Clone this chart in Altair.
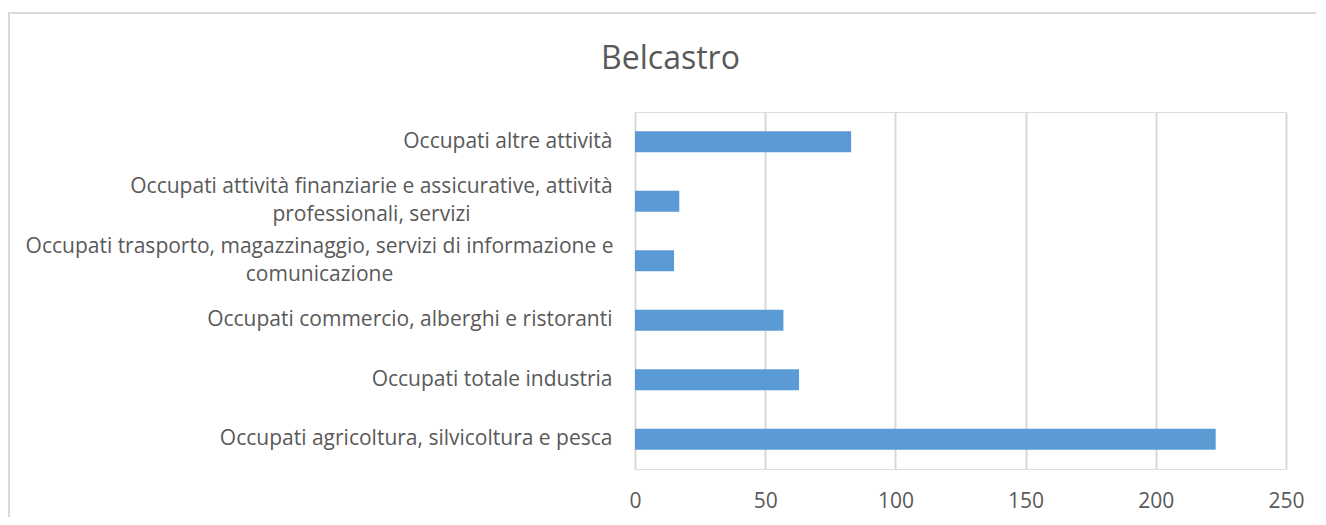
import altair as alt
import pandas as pd

categories = [
    "Occupati altre attività",
    "Occupati attività finanziarie e assicurative, attività\nprofessionali, servizi",
    "Occupati trasporto, magazzinaggio, servizi di informazione e\ncomunicazione",
    "Occupati commercio, alberghi e ristoranti",
    "Occupati totale industria",
    "Occupati agricoltura, silvicoltura e pesca",
]
values = [83, 17, 15, 57, 63, 223]
x_ticks = [0, 50, 100, 150, 200, 250]

df = pd.DataFrame({"categoria": categories, "occupati": values})

FONT = "Open Sans"
TXT = "#595959"

label_pad = {
    "condition": [
        {"test": "indexof(datum.value, 'finanziarie') >= 0", "value": 264},
        {"test": "indexof(datum.value, 'trasporto') >= 0", "value": 316},
    ],
    "value": 23,
}
label_align = {
    "condition": {"test": "indexof(datum.value, '\\n') >= 0", "value": "center"},
    "value": "right",
}
label_offset = {
    "condition": {"test": "indexof(datum.value, '\\n') >= 0", "value": -14},
    "value": 0,
}

bars = alt.Chart(df).mark_bar(color="#5b9bd5").encode(
    x=alt.X(
        "occupati:Q",
        scale=alt.Scale(domain=[0, 250], nice=False),
        axis=alt.Axis(
            values=x_ticks,
            title=None,
            domain=False,
            ticks=False,
            grid=True,
            gridColor="#d9d9d9",
            gridWidth=2,
            labelFont=FONT,
            labelFontSize=21,
            labelColor=TXT,
            labelPadding=21,
            labelFlush=False,
        ),
    ),
    y=alt.Y(
        "categoria:N",
        sort=None,
        scale=alt.Scale(paddingInner=0.647, paddingOuter=0.3235),
        axis=alt.Axis(
            title=None,
            domain=False,
            ticks=False,
            labelExpr="split(datum.label, '\\n')",
            labelFont=FONT,
            labelFontSize=21,
            labelColor=TXT,
            labelLineHeight=28,
            labelLimit=700,
            labelPadding=label_pad,
            labelAlign=label_align,
            labelOffset=label_offset,
        ),
    ),
)

frame_df = pd.DataFrame({"k": [0]})
frame_v = alt.Chart(frame_df).mark_rule(color="#d9d9d9", strokeWidth=2).encode(
    x=alt.value(-626), y=alt.value(-99), y2=alt.value(410)
)
frame_h = alt.Chart(frame_df).mark_rule(color="#d9d9d9", strokeWidth=2).encode(
    x=alt.value(-627), x2=alt.value(690), y=alt.value(-99)
)

chart = (
    alt.layer(frame_v, frame_h, bars)
    .properties(
        width=651,
        height=357,
        autosize=alt.AutoSizeParams(type="none"),
        padding={"left": 627, "top": 104, "right": 30, "bottom": 48},
        title=alt.TitleParams(
            "Belcastro",
            font=FONT,
            fontSize=32,
            fontWeight="normal",
            color=TXT,
            anchor="middle",
            frame="group",
            dx=-290,
            dy=89,
            offset=0,
            baseline="alphabetic",
        ),
    )
    .configure_view(stroke="transparent", strokeWidth=0)
    .configure(background="white")
)

chart.save("out.html", embed_options={"renderer": "svg", "actions": False})
